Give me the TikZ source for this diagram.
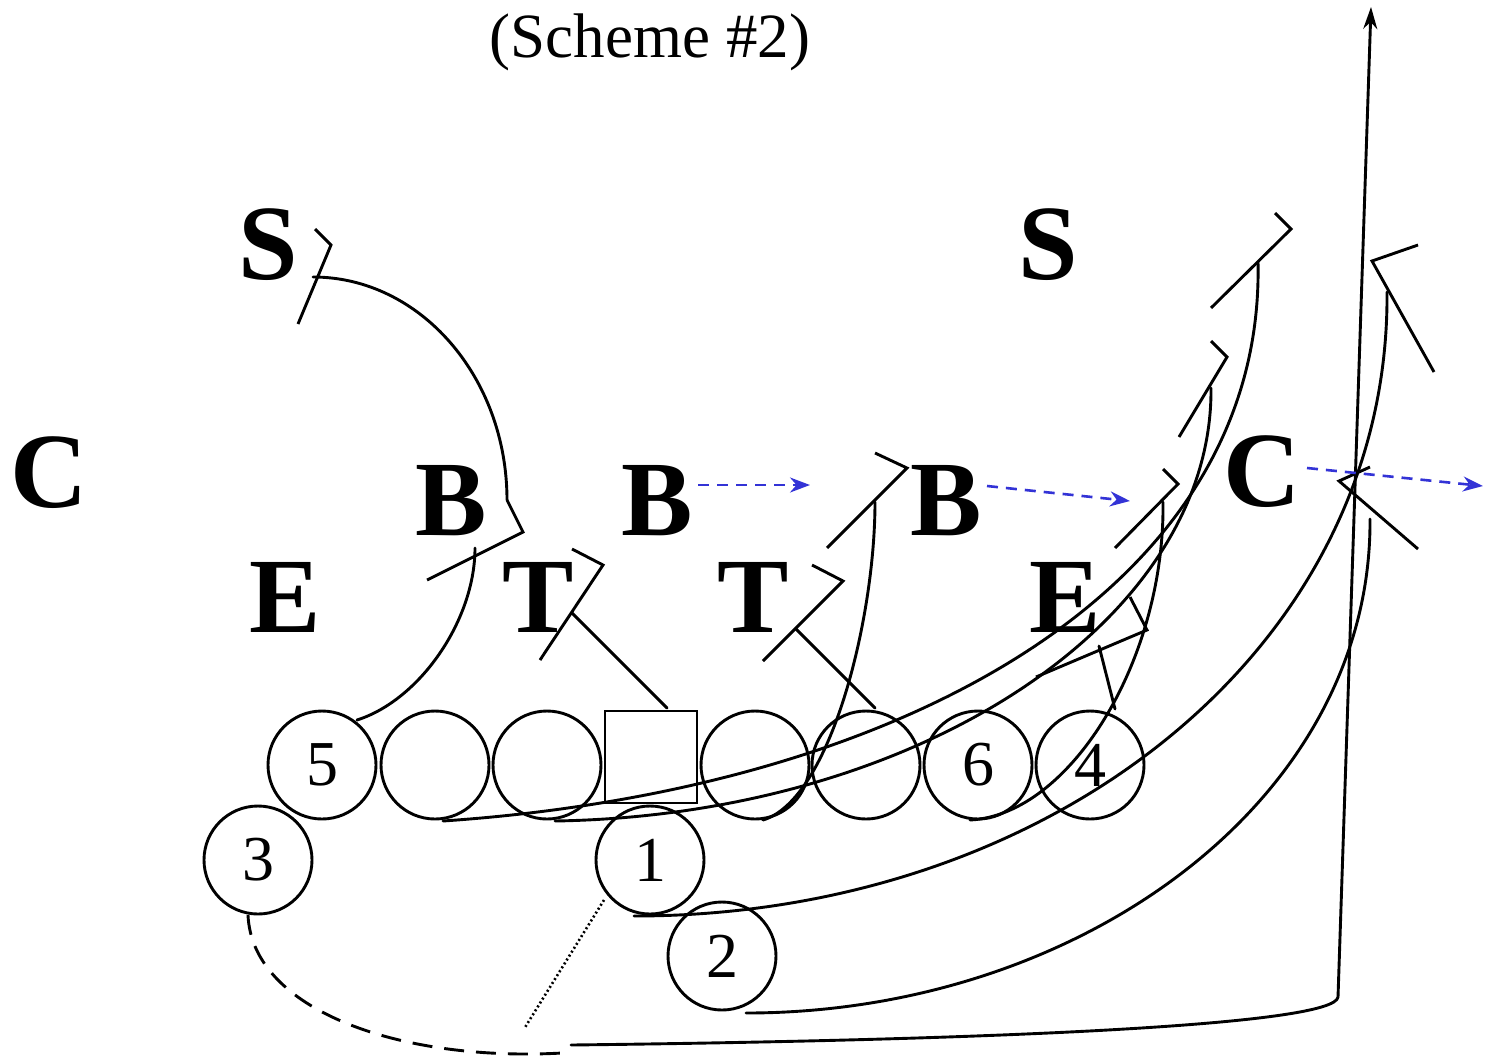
\documentclass[tikz,border=0pt]{standalone}
\usepackage{fontspec}
\setmainfont{Liberation Serif}
\usetikzlibrary{arrows.meta}
\definecolor{mblue}{RGB}{51,51,214}
\begin{document}
\begin{tikzpicture}[x=1pt,y=-1pt,
  ln/.style={line width=2.9pt, line join=miter},
  pl/.style={draw, circle, line width=2.9pt, minimum size=108pt, inner sep=0pt, font=\fontsize{64}{64}\selectfont},
  ctr/.style={draw, rectangle, line width=2.9pt, minimum size=92pt, inner sep=0pt},
  def/.style={inner sep=0pt, font=\fontsize{107}{107}\selectfont\bfseries},
  blu/.style={draw=mblue, line width=2.6pt, dash pattern=on 11pt off 8pt, -{Stealth[length=20pt,width=15pt,fill=mblue]}},
  route/.style={line width=2.9pt, line cap=round}
]
\useasboundingbox (0,0) rectangle (1485,1058);

% title
\node[font=\fontsize{63}{63}\selectfont, anchor=base, inner sep=0pt] (title) at (650,57) {(Scheme \#2)};

% defenders
\node[def] (S1) at (268,245) {S};
\node[def] (S2) at (1048,245) {S};
\node[def] (C1) at (49,473) {C};
\node[def] (C2) at (1262,472) {C};
\node[def] (B1) at (451,501) {B};
\node[def] (B2) at (657,501) {B};
\node[def] (B3) at (946,501) {B};
\node[def] (E1) at (285,597) {E};
\node[def] (T1) at (538,597) {T};
\node[def] (T2) at (753,597) {T};
\node[def] (E2) at (1065,597) {E};

% offense
\node[pl] (p5) at (322,765) {5};
\node[pl] (g1) at (435,765) {};
\node[pl] (g2) at (547,765) {};
\node[ctr] (cn) at (651,757) {};
\node[pl] (g3) at (755,765) {};
\node[pl] (g4) at (866,765) {};
\node[pl] (p6) at (978,765) {6};
\node[pl] (p4) at (1090,765) {4};
\node[pl] (p3) at (258,860) {3};
\node[pl] (p1) at (650,860) {1};
\node[pl] (p2) at (722,956) {2};

% block marks
\draw[ln] (315,229) -- (331,245) -- (298,324);
\draw[ln] (507,500) -- (523,532) -- (427,580);
\draw[ln] (572,549) -- (603,565) -- (540,660);
\draw[ln] (812,565) -- (843,581) -- (763,661);
\draw[ln] (875,453) -- (907,468) -- (827,548);
\draw[ln] (1163,469) -- (1178,484) -- (1115,548);
\draw[ln] (1130,597) -- (1147,630) -- (1036,677);
\draw[ln] (1275,213) -- (1291,229) -- (1211,308);
\draw[ln] (1211,341) -- (1227,357) -- (1179,437);
\draw[ln] (1418,245) -- (1372,261) -- (1434,372);
\draw[ln] (1370,467) -- (1339,481) -- (1418,549);

% end points of routes
\coordinate (eS) at (313,277);   \coordinate (eB1) at (507,500);
\coordinate (eB1b) at (475,548); \coordinate (eT1) at (572,613);
\coordinate (eT2) at (796,629);  \coordinate (eB2) at (875,502);
\coordinate (eB3) at (1163,502); \coordinate (eE2) at (1099,646);
\coordinate (eU1) at (1258,262); \coordinate (eU2) at (1211,388);
\coordinate (eCu) at (1387,292); \coordinate (eCl) at (1370,519);
\coordinate (top) at (1371,7);

% straight blocks
\draw[route] (667,708) -- (eT1);
\draw[route] (875,708) -- (eT2);
\draw[route] (1115,709) -- (eE2);

% curved routes
\draw[route] (eS) .. controls (420,277) and (507,377) .. (eB1);
\draw[route] (357,720) .. controls (420,700) and (475,620) .. (eB1b);
\draw[route] (443,821) .. controls (900,790) and (1265,590) .. (eU1);
\draw[route] (555,821) .. controls (920,815) and (1213,620) .. (eU2);
\draw[route] (763,820) .. controls (830,800) and (875,620) .. (eB2);
\draw[route] (970,820) .. controls (1070,815) and (1165,660) .. (eB3);
\draw[route] (634,916) .. controls (1050,916) and (1390,650) .. (eCu);
\draw[route] (746,1013) .. controls (1080,1013) and (1372,800) .. (eCl);

% QB run
\draw[route, line cap=butt, dash pattern=on 20pt off 12pt] (248,915) .. controls (252,1010) and (400,1062) .. (562,1053);
\draw[line width=2.6pt, dash pattern=on 2pt off 2.6pt] (604,900) -- (524,1029);
\draw[route, -{Stealth[length=22pt,width=14pt]}] (571,1045) .. controls (1000,1040) and (1335,1025) .. (1338,997) -- (top);

% blue moves
\draw[blu] (698,485) -- (810,485);
\draw[blu] (987,486) -- (1130,501);
\draw[blu] (1307,468) -- (1483,486);
\end{tikzpicture}
\end{document}
